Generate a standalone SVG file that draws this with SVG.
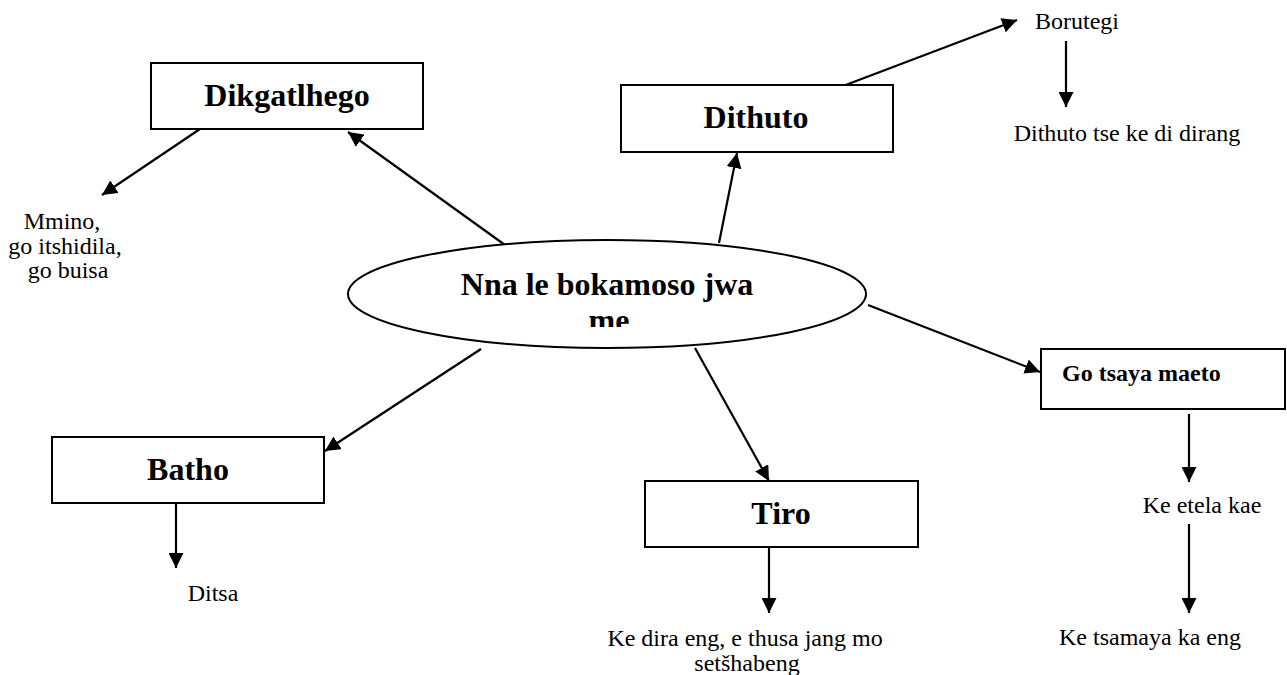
<svg xmlns="http://www.w3.org/2000/svg" width="1287" height="675" viewBox="0 0 1287 675">
<style>
.box{fill:#fff;stroke:#000;stroke-width:2}
.hub{fill:#fff;stroke:#000;stroke-width:2}
.b{font-family:"Liberation Serif","Times New Roman",serif;font-weight:bold;font-size:32px;fill:#000;text-anchor:middle}
.bs{font-family:"Liberation Serif","Times New Roman",serif;font-weight:bold;font-size:24px;fill:#000}
.t{font-family:"Liberation Serif","Times New Roman",serif;font-size:24px;fill:#000;text-anchor:middle}
.c line{stroke:#000;stroke-width:2.2;marker-end:url(#ah)}
</style>
<defs>
<marker id="ah" markerUnits="userSpaceOnUse" markerWidth="16" markerHeight="15" refX="15" refY="7.5" orient="auto">
<path d="M0,0 L15,7.5 L0,15 z" fill="#000"/>
</marker>
<clipPath id="meclip"><rect x="0" y="0" width="1287" height="327"/></clipPath>
</defs>
<rect width="1287" height="675" fill="#fff"/>

<g class="c" id="connectors">
<line x1="505" y1="245" x2="348" y2="132"/>
<line x1="200" y1="129" x2="102" y2="195"/>
<line x1="719" y1="243" x2="737" y2="153"/>
<line x1="843" y1="86" x2="1017" y2="20"/>
<line x1="1066" y1="41" x2="1066" y2="107"/>
<line x1="868" y1="305" x2="1040" y2="372"/>
<line x1="1189" y1="414" x2="1189" y2="482"/>
<line x1="1189" y1="524" x2="1189" y2="613"/>
<line x1="695" y1="348" x2="769" y2="481"/>
<line x1="769" y1="547" x2="769" y2="613"/>
<line x1="481" y1="349" x2="325" y2="451"/>
<line x1="176" y1="503" x2="176" y2="568"/>
</g>

<g id="hub">
<ellipse class="hub" cx="607" cy="294" rx="259" ry="54"/>
<text class="b" x="607" y="295">Nna le bokamoso jwa</text>
<text class="b" x="609" y="331" clip-path="url(#meclip)">me</text>
</g>

<g id="dikgatlhego">
<rect class="box" x="151" y="63" width="272" height="66"/>
<text class="b" x="287" y="106">Dikgatlhego</text>
</g>
<g id="mmino">
<text class="t" x="62" y="229">Mmino,</text>
<text class="t" x="65" y="254">go itshidila,</text>
<text class="t" x="68" y="278">go buisa</text>
</g>

<g id="dithuto">
<rect class="box" x="621" y="85" width="272" height="67"/>
<text class="b" x="756" y="128">Dithuto</text>
</g>
<g id="borutegi">
<text class="t" x="1077" y="29">Borutegi</text>
</g>
<g id="dithuto-tse">
<text class="t" x="1127" y="141">Dithuto tse ke di dirang</text>
</g>

<g id="go-tsaya-maeto">
<rect class="box" x="1041" y="349" width="244" height="60"/>
<text class="bs" x="1062" y="381">Go tsaya maeto</text>
</g>
<g id="ke-etela-kae">
<text class="t" x="1202" y="513">Ke etela kae</text>
</g>
<g id="ke-tsamaya">
<text class="t" x="1150" y="645">Ke tsamaya ka eng</text>
</g>

<g id="tiro">
<rect class="box" x="645" y="481" width="273" height="66"/>
<text class="b" x="781" y="524">Tiro</text>
</g>
<g id="ke-dira-eng">
<text class="t" x="745" y="646">Ke dira eng, e thusa jang mo</text>
<text class="t" x="747" y="671">setšhabeng</text>
</g>

<g id="batho">
<rect class="box" x="52" y="437" width="272" height="66"/>
<text class="b" x="188" y="480">Batho</text>
</g>
<g id="ditsa">
<text class="t" x="213" y="601">Ditsa</text>
</g>
</svg>
